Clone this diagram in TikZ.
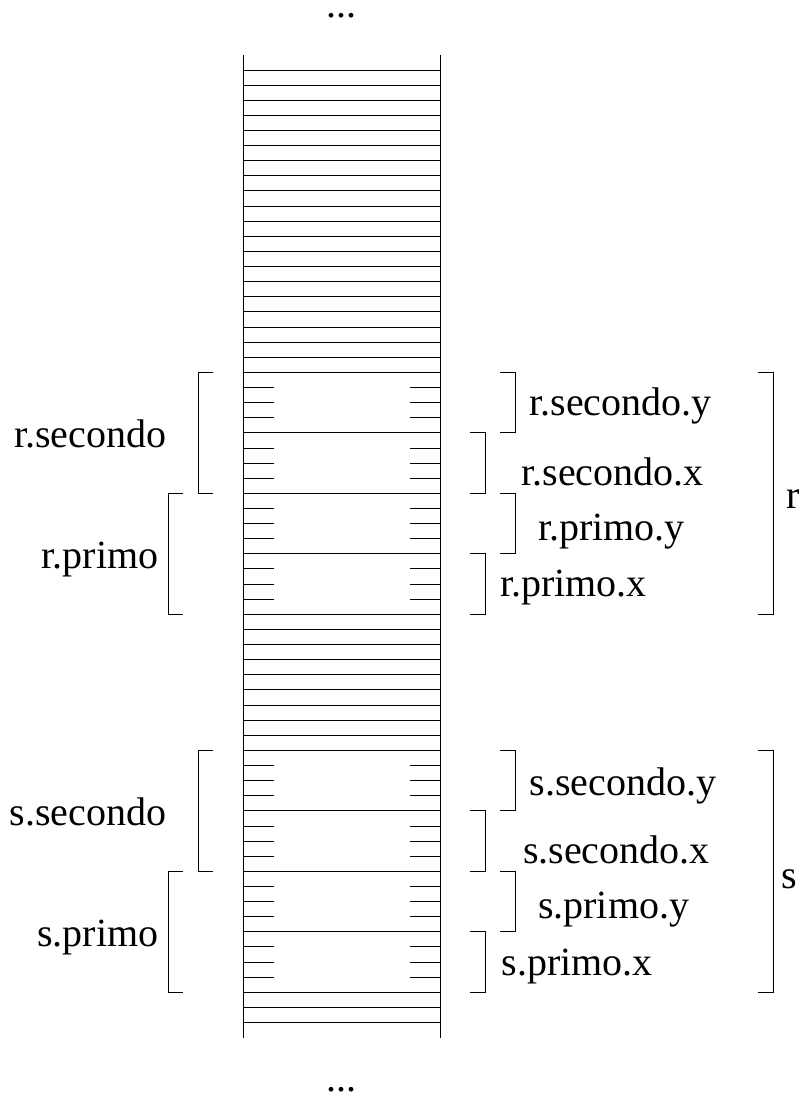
\documentclass[tikz,border=0pt]{standalone}
\usepackage{fontspec}
\setmainfont{Liberation Serif}
\begin{document}
\begin{tikzpicture}[x=1pt,y=-1pt,line width=1pt,
  txt/.style={inner sep=0pt,font=\fontsize{40}{48}\selectfont},
  lt/.style={txt,anchor=base east},
  rt/.style={txt,anchor=base west},
  dots/.style={txt,anchor=base,text height=4pt,text depth=0pt},
  wall/.style={line width=1pt},
  slot/.style={line width=1pt},
  brk/.style={line width=1pt,line join=miter}]
\useasboundingbox (0,0) rectangle (803,1095);
\def\yy#1{70+15.12*#1}
% column walls
\coordinate (tl) at (243.5,{\yy{-1}});
\coordinate (bl) at (243.5,{\yy{64}});
\coordinate (tr) at (440,{\yy{-1}});
\coordinate (br) at (440,{\yy{64}});
\draw[wall] (tl) -- (bl);
\draw[wall] (tr) -- (br);
% full slot lines
\foreach \k in {0,...,20,24,28,32} \draw[slot] (243.5,{\yy{\k}}) -- (440,{\yy{\k}});
\foreach \k in {36,...,45,49,53,57,61,62,63} \draw[slot] (243.5,{\yy{\k}}) -- (440,{\yy{\k}});
% short ticks inside fields
\foreach \k in {21,22,23,25,26,27,29,30,31,33,34,35,46,47,48,50,51,52,54,55,56,58,59,60}{
  \draw[slot] (243.5,{\yy{\k}}) -- (274,{\yy{\k}});
  \draw[slot] (410,{\yy{\k}}) -- (440,{\yy{\k}});
}
% brackets: left-opening "[" and right-closing "]"
\newcommand\lbrk[3]{\draw[brk] (#1+15,{\yy{#2}}) -- (#1,{\yy{#2}}) -- (#1,{\yy{#3}}) -- (#1+15,{\yy{#3}});}
\newcommand\rbrk[3]{\draw[brk] (#1-15,{\yy{#2}}) -- (#1,{\yy{#2}}) -- (#1,{\yy{#3}}) -- (#1-15,{\yy{#3}});}
% r
\lbrk{198.3}{20}{28}
\lbrk{168.3}{28}{36}
\rbrk{515}{20}{24}
\rbrk{485}{24}{28}
\rbrk{515}{28}{32}
\rbrk{485}{32}{36}
\rbrk{773.3}{20}{36}
% s
\lbrk{198.3}{45}{53}
\lbrk{168.3}{53}{61}
\rbrk{515}{45}{49}
\rbrk{485}{49}{53}
\rbrk{515}{53}{57}
\rbrk{485}{57}{61}
\rbrk{773.3}{45}{61}
% labels
\node[dots] (dtop) at (341.7,17) {...};
\node[dots] (dbot) at (341.7,1091) {...};
\node[lt] (rsec) at (167,447.3) {r.secondo};
\node[lt] (rpri) at (159,568.3) {r.primo};
\node[lt] (ssec) at (167,825) {s.secondo};
\node[lt] (spri) at (159,946.7) {s.primo};
\node[rt] (rsy) at (529,415) {r.secondo.y};
\node[rt] (rsx) at (521,485) {r.secondo.x};
\node[rt] (rpy) at (537.5,540) {r.primo.y};
\node[rt] (rpx) at (499.5,596.7) {r.primo.x};
\node[rt] (ssy) at (529,795) {s.secondo.y};
\node[rt] (ssx) at (522.5,863.3) {s.secondo.x};
\node[rt] (spy) at (537.5,918.3) {s.primo.y};
\node[rt] (spx) at (501,975) {s.primo.x};
\node[rt] (rr) at (786,508) {r};
\node[rt] (ss) at (781,888) {s};
\end{tikzpicture}
\end{document}
